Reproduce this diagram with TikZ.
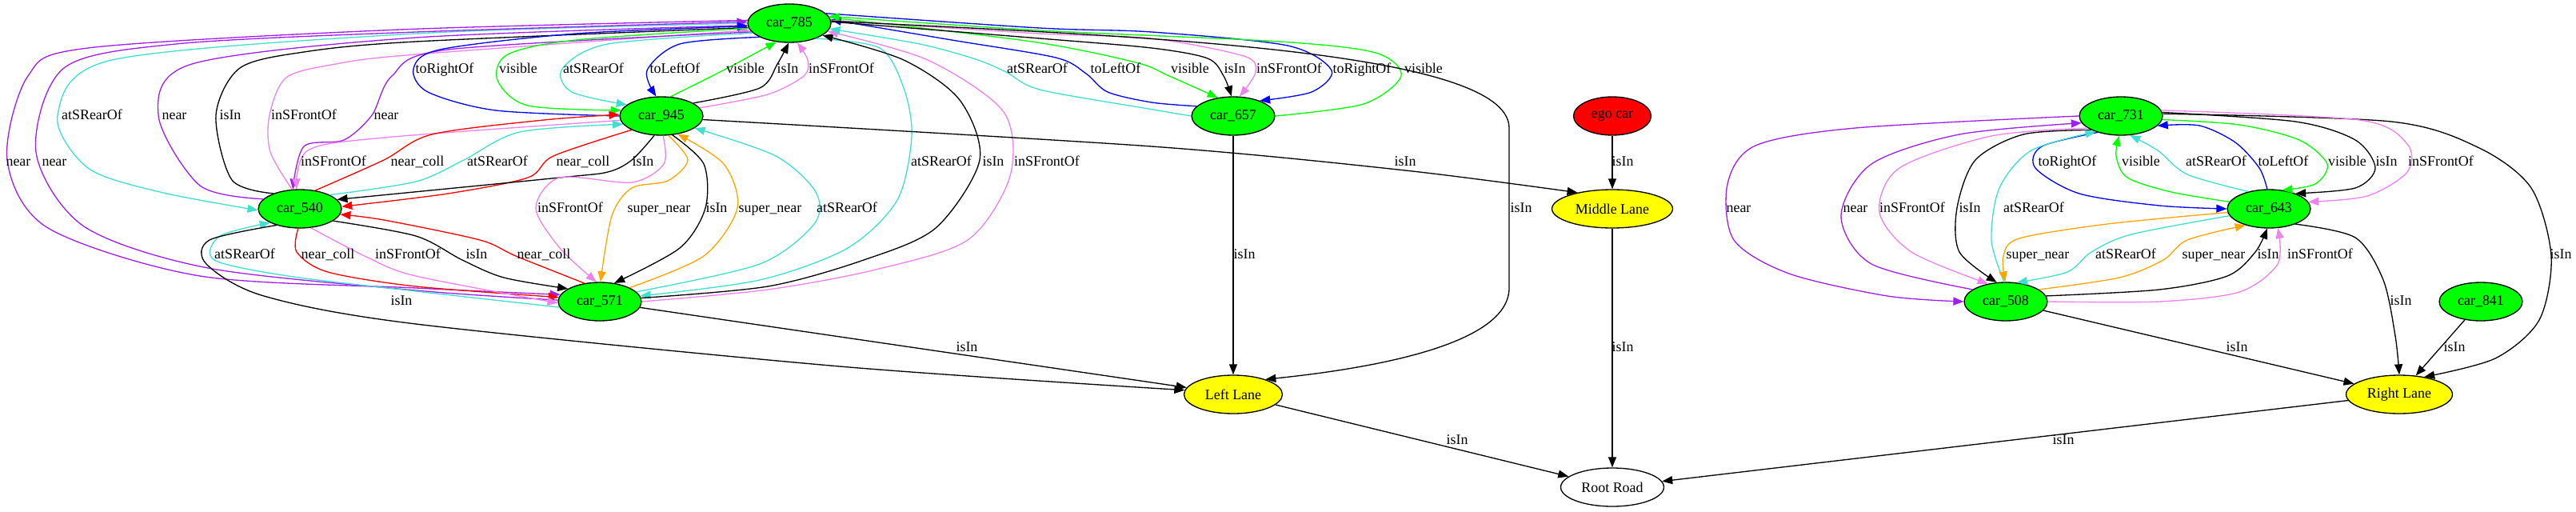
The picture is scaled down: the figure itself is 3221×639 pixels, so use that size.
\documentclass[tikz,border=0pt]{standalone}
\usepackage{fontspec}
\setmainfont{Liberation Serif}
\usetikzlibrary{arrows.meta, shapes.geometric}
\definecolor{cargreen}{HTML}{00FF00}
\definecolor{egored}{HTML}{FF0000}
\definecolor{laneyellow}{HTML}{FFFF00}
\definecolor{relblue}{HTML}{0000FF}
\definecolor{relgreen}{HTML}{00FF00}
\definecolor{relturq}{HTML}{40E0D0}
\definecolor{relviolet}{HTML}{EE82EE}
\definecolor{relpurple}{HTML}{A020F0}
\definecolor{relred}{HTML}{FF0000}
\definecolor{relorange}{HTML}{FFA500}
\begin{document}
\begin{tikzpicture}[x=0.02cm, y=-0.02cm,
    car/.style={draw, ellipse, fill=cargreen, line width=0.75pt, inner sep=0pt,
        minimum width=2.08cm, minimum height=0.96cm, font=\fontsize{10.2}{12}\selectfont},
    lane/.style={car, fill=laneyellow},
    rel/.style={line width=0.75pt, -{Triangle[length=0.26cm, width=0.2cm]}},
    lbl/.style={inner sep=0pt, text height=0.68em, text depth=0pt, font=\fontsize{10.2}{12}\selectfont}]
            \useasboundingbox (0,0) rectangle (3221,639);

            % Define nodes
            \node[car] (c785) at (987,29) {car\_785};
            \node[car] (c945) at (827,145) {car\_945};
            \node[car] (c657) at (1542,145) {car\_657};
            \node[car, fill=egored, minimum width=1.94cm] (ego) at (2016,145) {ego car};
            \node[car] (c731) at (2652,145) {car\_731};
            \node[car] (c540) at (375,261) {car\_540};
            \node[lane, minimum width=3.02cm] (midlane) at (2016,261) {Middle Lane};
            \node[car] (c643) at (2837,261) {car\_643};
            \node[car] (c571) at (750,377) {car\_571};
            \node[car] (c508) at (2508,377) {car\_508};
            \node[car] (c841) at (3102,377) {car\_841};
            \node[lane, minimum width=2.46cm] (leftlane) at (1542,493) {Left Lane};
            \node[lane, minimum width=2.66cm] (rightlane) at (3000,493) {Right Lane};
            \node[lane, fill=white, minimum width=2.58cm] (rootroad) at (2016,609) {Root Road};

            % Draw edges: car_785 and car_540
            \draw[rel, relturq] plot[smooth] coordinates {(c785.180) (520,42) (140,75) (72,144) (110,210) (200,240) (c540.182)};
            \draw[rel, relpurple] plot[smooth] coordinates {(c540.165) (250,232) (198,144) (240,80) (520,47) (c785.183)};
            \draw[rel] plot[smooth] coordinates {(c540.150) (290,225) (270,144) (300,85) (380,65) (520,52) (c785.186)};
            \draw[rel, relviolet] plot[smooth] coordinates {(c540.112) (338,190) (337,144) (358,97) (420,80) (520,68) (c785.190)};
            \draw[rel, relpurple] plot[smooth] coordinates {(c785.193) (560,62) (490,95) (465,144) (430,175) (380,183) (c540.110)};
            \draw[rel, relpurple] plot[smooth] coordinates {(c785.176) (500,37) (110,60) (35,95) (9,200) (60,285) (250,345) (520,360) (c571.170)};
            \draw[rel, relpurple] plot[smooth] coordinates {(c571.178) (520,363) (260,335) (105,283) (45,190) (80,85) (220,55) (520,40) (c785.178)};

            % car_785 and car_945
            \draw[rel, relblue] plot[smooth] coordinates {(c945.180) (620,138) (535,115) (517,86) (550,62) (720,42) (c785.184)};
            \draw[rel, relgreen] plot[smooth] coordinates {(c785.187) (720,50) (635,68) (622,100) (660,132) (c945.172)};
            \draw[rel, relturq] plot[smooth] coordinates {(c785.195) (760,55) (703,86) (715,115) (c945.162)};
            \draw[rel, relblue] plot[smooth] coordinates {(c785.205) (850,55) (809,88) (c945.105)};
            \draw[rel, relgreen] plot[smooth] coordinates {(c945.65) (908,86) (c785.235)};
            \draw[rel] plot[smooth] coordinates {(c945.22) (950,110) (972,80) (c785.268)};
            \draw[rel, relviolet] plot[smooth] coordinates {(c945.12) (960,118) (1005,95) (1010,75) (c785.292)};

            % car_945, car_540 and car_571
            \draw[rel, relviolet] plot[smooth] coordinates {(c945.186) (480,172) (385,188) (c540.100)};
            \draw[rel, relred] plot[smooth] coordinates {(c540.50) (480,200) (540,168) (680,150) (c945.178)};
            \draw[rel, relturq] plot[smooth] coordinates {(c540.25) (520,227) (580,200) (650,165) (c945.192)};
            \draw[rel, relred] plot[smooth] coordinates {(c945.205) (692,195) (660,222) (560,242) (c540.3)};
            \draw[rel] plot[smooth] coordinates {(c945.250) (790,200) (760,215) (700,222) (c540.14)};
            \draw[rel, relviolet] plot[smooth] coordinates {(c945.275) (830,205) (790,228) (700,222) (670,260) (700,310) (c571.100)};
            \draw[rel, relorange] plot[smooth] coordinates {(c945.290) (860,200) (835,226) (790,235) (765,270) (c571.88)};
            \draw[rel] plot[smooth] coordinates {(c945.300) (880,205) (882,260) (850,310) (c571.52)};
            \draw[rel, relorange] plot[smooth] coordinates {(c571.25) (880,320) (922,260) (905,205) (c945.312)};
            \draw[rel, relturq] plot[smooth] coordinates {(c571.15) (950,330) (1018,280) (1020,240) (970,195) (c945.340)};
            \draw[rel, relturq] plot[smooth] coordinates {(c785.330) (1100,60) (1130,110) (1140,170) (1122,250) (1060,310) (950,350) (c571.8)};
            \draw[rel] plot[smooth] coordinates {(c571.5) (960,358) (1080,325) (1170,285) (1225,200) (1200,125) (1130,75) (c785.340)};
            \draw[rel, relviolet] plot[smooth] coordinates {(c571.0) (960,362) (1095,337) (1210,300) (1263,220) (1255,140) (1160,75) (c785.348)};
            \draw[rel, relturq] plot[smooth] coordinates {(c571.188) (520,364) (360,345) (268,325) (275,295) (c540.205)};
            \draw[rel, relred] plot[smooth] coordinates {(c540.265) (371,315) (410,340) (520,358) (c571.174)};
            \draw[rel, relviolet] plot[smooth] coordinates {(c540.300) (460,322) (520,345) (c571.182)};
            \draw[rel] plot[smooth] coordinates {(c540.340) (520,295) (578,325) (630,347) (c571.158)};
            \draw[rel, relred] plot[smooth] coordinates {(c571.130) (645,320) (600,300) (480,275) (c540.352)};

            % car_785 and car_657
            \draw[rel, relturq] plot[smooth] coordinates {(c657.180) (1430,135) (1300,112) (1258,90) (1220,74) (1150,55) (c785.352)};
            \draw[rel, relblue] plot[smooth] coordinates {(c657.165) (1440,128) (1385,115) (1358,92) (1320,72) (1190,50) (c785.5)};
            \draw[rel, relgreen] plot[smooth] coordinates {(c785.8) (1290,52) (1420,78) (1462,95) (c657.130)};
            \draw[rel] plot[smooth] coordinates {(c785.2) (1300,48) (1440,60) (1510,73) (1530,95) (c657.95)};
            \draw[rel, relviolet] plot[smooth] coordinates {(c785.4) (1300,42) (1440,48) (1555,70) (1570,90) (c657.72)};
            \draw[rel, relblue] plot[smooth] coordinates {(c785.15) (1300,35) (1440,40) (1610,57) (1665,88) (1640,115) (c657.30)};
            \draw[rel, relgreen] plot[smooth] coordinates {(c657.0) (1705,130) (1752,95) (1720,66) (1600,52) (1300,38) (c785.10)};

            % lanes and road
            \draw[rel] plot[smooth] coordinates {(c945.355) (1440,183) (1757,213) (midlane.155)};
            \draw[rel] (ego) -- (midlane);
            \draw[rel] (midlane) -- (rootroad);
            \draw[rel] (c657) -- (leftlane);
            \draw[rel] (c785.3) .. controls (1400,45) and (1887,60) .. (1887,160)
                -- (1887,360) .. controls (1887,430) and (1720,460) .. (leftlane.25);
            \draw[rel] (c571) -- (leftlane);
            \draw[rel] plot[smooth] coordinates {(c540.215) (262,300) (258,330) (330,370) (520,405) (1050,458) (leftlane.175)};
            \draw[rel] (leftlane) -- (rootroad);
            \draw[rel] (c508) -- (rightlane);
            \draw[rel] (c841) -- (rightlane);
            \draw[rel] plot[smooth] coordinates {(c643.330) (2945,297) (2980,350) (2995,420) (rightlane.90)};
            \draw[rel] plot[smooth] coordinates {(c731.3) (2990,152) (3100,185) (3165,235) (3190,320) (3175,400) (3120,448) (rightlane.35)};
            \draw[rel] (rightlane) -- (rootroad);

            % car_731, car_643 and car_508
            \draw[rel, relblue] plot[smooth] coordinates {(c731.215) (2553,183) (2545,210) (2600,242) (2700,257) (c643.180)};
            \draw[rel, relgreen] plot[smooth] coordinates {(c643.170) (2715,240) (2660,222) (2646,195) (c731.265)};
            \draw[rel, relturq] plot[smooth] coordinates {(c643.140) (2735,218) (2698,188) (c731.295)};
            \draw[rel, relblue] plot[smooth] coordinates {(c643.95) (2825,210) (2795,178) (2750,157) (c731.345)};
            \draw[rel, relgreen] plot[smooth] coordinates {(c731.355) (2800,156) (2875,175) (2910,205) (2895,230) (c643.55)};
            \draw[rel] plot[smooth] coordinates {(c731.5) (2870,152) (2945,175) (2970,210) (2945,235) (c643.30)};
            \draw[rel, relviolet] plot[smooth] coordinates {(c731.8) (2950,150) (3010,180) (3010,215) (2960,245) (c643.10)};
            \draw[rel, relpurple] plot[smooth] coordinates {(c731.180) (2320,160) (2195,182) (2160,230) (2168,300) (2237,342) (2360,370) (c508.180)};
            \draw[rel, relpurple] plot[smooth] coordinates {(c508.160) (2340,330) (2302,270) (2340,205) (2450,168) (c731.190)};
            \draw[rel, relviolet] plot[smooth] coordinates {(c731.200) (2490,170) (2375,210) (2350,265) (2390,315) (c508.135)};
            \draw[rel] plot[smooth] coordinates {(c731.205) (2530,168) (2470,200) (2447,260) (2450,315) (c508.115)};
            \draw[rel, relturq] plot[smooth] coordinates {(c508.95) (2490,300) (2500,235) (2540,188) (c731.212)};
            \draw[rel, relorange] plot[smooth] coordinates {(c643.185) (2635,280) (2525,298) (2505,320) (c508.92)};
            \draw[rel, relturq] plot[smooth] coordinates {(c643.190) (2665,293) (2615,315) (2585,340) (c508.60)};
            \draw[rel, relorange] plot[smooth] coordinates {(c508.20) (2650,347) (2705,325) (2735,300) (c643.215)};
            \draw[rel] plot[smooth] coordinates {(c508.8) (2700,362) (2785,345) (2820,315) (c643.265)};
            \draw[rel, relviolet] plot[smooth] coordinates {(c508.0) (2700,377) (2800,365) (2848,330) (c643.295)};

            % Edge labels
            \node[lbl] (t1) at (115,144) {atSRearOf};
            \node[lbl] (t2) at (218,144) {near};
            \node[lbl] (t3) at (288,144) {isIn};
            \node[lbl] (t4) at (380,144) {inSFrontOf};
            \node[lbl] (t5) at (483,144) {near};
            \node[lbl] (t6) at (23,202) {near};
            \node[lbl] (t7) at (68,202) {near};
            \node[lbl] (t8) at (556,86) {toRightOf};
            \node[lbl] (t9) at (648,86) {visible};
            \node[lbl] (t10) at (742,86) {atSRearOf};
            \node[lbl] (t11) at (844,86) {toLeftOf};
            \node[lbl] (t12) at (932,86) {visible};
            \node[lbl] (t13) at (985,86) {isIn};
            \node[lbl] (t14) at (1052,86) {inSFrontOf};
            \node[lbl] (t15) at (417,202) {inSFrontOf};
            \node[lbl] (t16) at (522,202) {near\_coll};
            \node[lbl] (t17) at (622,202) {atSRearOf};
            \node[lbl] (t18) at (729,202) {near\_coll};
            \node[lbl] (t19) at (804,202) {isIn};
            \node[lbl] (t20) at (713,260) {inSFrontOf};
            \node[lbl] (t21) at (824,260) {super\_near};
            \node[lbl] (t22) at (896,260) {isIn};
            \node[lbl] (t23) at (963,260) {super\_near};
            \node[lbl] (t24) at (1059,260) {atSRearOf};
            \node[lbl] (t25) at (1177,202) {atSRearOf};
            \node[lbl] (t26) at (1242,202) {isIn};
            \node[lbl] (t27) at (1309,202) {inSFrontOf};
            \node[lbl] (t28) at (306,318) {atSRearOf};
            \node[lbl] (t29) at (410,318) {near\_coll};
            \node[lbl] (t30) at (510,318) {inSFrontOf};
            \node[lbl] (t31) at (596,318) {isIn};
            \node[lbl] (t32) at (680,318) {near\_coll};
            \node[lbl] (t33) at (1297,86) {atSRearOf};
            \node[lbl] (t34) at (1395,86) {toLeftOf};
            \node[lbl] (t35) at (1488,86) {visible};
            \node[lbl] (t36) at (1544,86) {isIn};
            \node[lbl] (t37) at (1612,86) {inSFrontOf};
            \node[lbl] (t38) at (1703,86) {toRightOf};
            \node[lbl] (t39) at (1780,86) {visible};
            \node[lbl] (t40) at (1757,202) {isIn};
            \node[lbl] (t41) at (2029,202) {isIn};
            \node[lbl] (t42) at (2029,434) {isIn};
            \node[lbl] (t43) at (1556,318) {isIn};
            \node[lbl] (t44) at (1902,260) {isIn};
            \node[lbl] (t45) at (1209,434) {isIn};
            \node[lbl] (t46) at (502,376) {isIn};
            \node[lbl] (t47) at (1822,550) {isIn};
            \node[lbl] (t48) at (2797,434) {isIn};
            \node[lbl] (t49) at (3069,434) {isIn};
            \node[lbl] (t50) at (3002,376) {isIn};
            \node[lbl] (t51) at (3202,318) {isIn};
            \node[lbl] (t52) at (2580,550) {isIn};
            \node[lbl] (t53) at (2585,202) {toRightOf};
            \node[lbl] (t54) at (2677,202) {visible};
            \node[lbl] (t55) at (2771,202) {atSRearOf};
            \node[lbl] (t56) at (2855,202) {toLeftOf};
            \node[lbl] (t57) at (2935,202) {visible};
            \node[lbl] (t58) at (2984,202) {isIn};
            \node[lbl] (t59) at (3052,202) {inSFrontOf};
            \node[lbl] (t60) at (2174,260) {near};
            \node[lbl] (t61) at (2320,260) {near};
            \node[lbl] (t62) at (2391,260) {inSFrontOf};
            \node[lbl] (t63) at (2463,260) {isIn};
            \node[lbl] (t64) at (2543,260) {atSRearOf};
            \node[lbl] (t65) at (2548,318) {super\_near};
            \node[lbl] (t66) at (2658,318) {atSRearOf};
            \node[lbl] (t67) at (2768,318) {super\_near};
            \node[lbl] (t68) at (2836,318) {isIn};
            \node[lbl] (t69) at (2901,318) {inSFrontOf};

        \end{tikzpicture}
\end{document}
